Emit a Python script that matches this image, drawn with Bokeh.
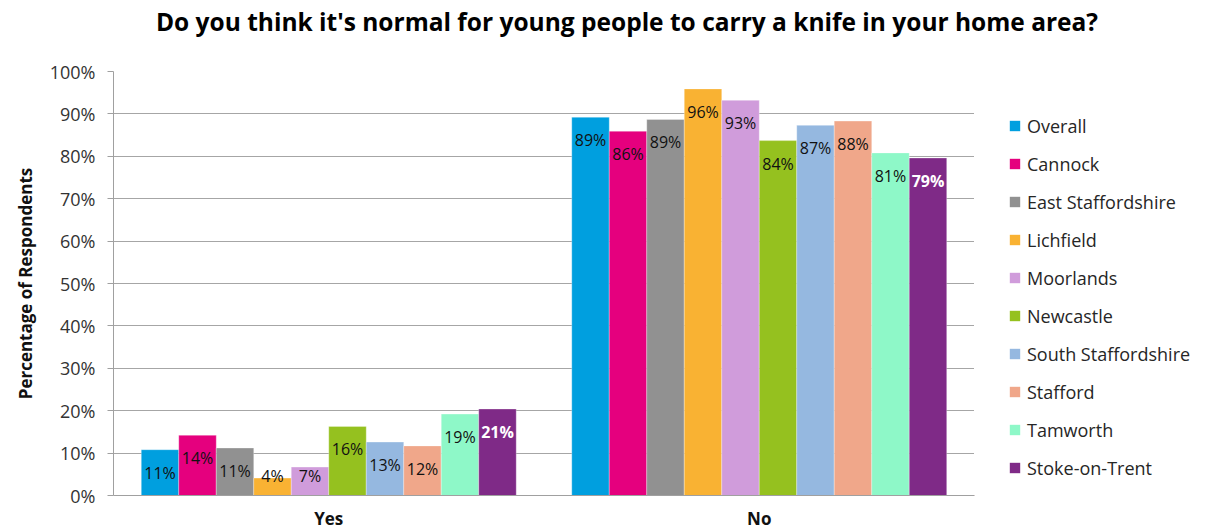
from bokeh.plotting import figure
from bokeh.layouts import column, row
from bokeh.models import (ColumnDataSource, FactorRange, Legend, LegendItem, Div,
                          PrintfTickFormatter, FixedTicker, Range1d)
from bokeh.transform import dodge
from bokeh.core.properties import value
from bokeh.embed import file_html
from bokeh.resources import INLINE

title_text = "Do you think it's normal for young people to carry a knife in your home area?"
categories = ["Yes", "No"]
districts = ["Overall", "Cannock", "East Staffordshire", "Lichfield", "Moorlands",
             "Newcastle", "South Staffordshire", "Stafford", "Tamworth", "Stoke-on-Trent"]
yes_values = [10.8, 14.2, 11.2, 4.1, 6.7, 16.3, 12.6, 11.7, 19.2, 20.4]
no_values = [89.2, 85.9, 88.7, 95.9, 93.2, 83.7, 87.3, 88.3, 80.8, 79.6]
yes_labels = [11, 14, 11, 4, 7, 16, 13, 12, 19, 21]
no_labels = [89, 86, 89, 96, 93, 84, 87, 88, 81, 79]
y_ticks = [0, 10, 20, 30, 40, 50, 60, 70, 80, 90, 100]

colors = ["#009FDF", "#E5007E", "#919191", "#F9B233", "#D09CDB",
          "#95C11F", "#95B8E0", "#F0A78A", "#8EF8C8", "#7F2A87"]
label_colors = ["#111111"] * 9 + ["#FFFFFF"]

FONT = "Open Sans"

title_div = Div(text=title_text, width=1164, height=50, margin=(0, 0, 0, 45),
                styles={"font-family": FONT, "font-size": "24.5px", "font-weight": "bold",
                        "text-align": "center", "line-height": "44px", "color": "#000000",
                        "white-space": "nowrap"})

p = figure(x_range=FactorRange(*categories), y_range=(0, 100),
           width=974, height=482, output_backend="svg", toolbar_location=None,
           min_border_left=113, min_border_right=0, min_border_top=21,
           min_border_bottom=37, margin=0)
p.outline_line_color = None
p.background_fill_color = "white"
p.border_fill_color = "white"

# legend holder figure
lf = figure(width=235, height=482, output_backend="svg", toolbar_location=None,
            x_range=Range1d(0, 1), y_range=Range1d(0, 1),
            x_axis_type=None, y_axis_type=None,
            min_border_left=0, min_border_right=0, min_border_top=0,
            min_border_bottom=0, margin=0)
lf.outline_line_color = None
lf.xgrid.grid_line_color = None
lf.ygrid.grid_line_color = None

bar_w = 0.0871
n = len(districts)
items = []
for i, d in enumerate(districts):
    off = (i - (n - 1) / 2) * bar_w
    vals = [yes_values[i], no_values[i]]
    labs = [yes_labels[i], no_labels[i]]
    src = ColumnDataSource(dict(
        cat=categories,
        val=vals,
        ly=[max(v - 5.4, 4.5) for v in vals],
        txt=[f"{l}%" for l in labs],
    ))
    p.vbar(x=dodge("cat", off, range=p.x_range), top="val", width=bar_w,
           source=src, fill_color=colors[i], line_color="white", line_width=0.6,
           line_alpha=0.5)
    p.text(x=dodge("cat", off, range=p.x_range), y="ly", text="txt", source=src,
           text_align="center", text_baseline="middle",
           text_font=value(FONT), text_font_size="16px",
           text_color=label_colors[i],
           text_font_style="bold" if i == n - 1 else "normal")
    # off-screen proxy glyph, only used to draw the legend swatch
    lr = lf.vbar(x=[-1], top=[-1], width=0.1, fill_color=colors[i], line_color=None)
    items.append(LegendItem(label=d, renderers=[lr]))

legend = Legend(items=items, location=(34, 15), orientation="vertical",
                glyph_width=13, glyph_height=13, label_height=25, spacing=13,
                label_standoff=6, padding=0, margin=0,
                border_line_color=None, background_fill_alpha=0,
                label_text_font=FONT, label_text_font_size="18px",
                label_text_color="#262626")
lf.add_layout(legend)

# axes
p.yaxis.ticker = FixedTicker(ticks=y_ticks)
p.yaxis.formatter = PrintfTickFormatter(format="%d%%")
p.yaxis.major_label_text_font = FONT
p.yaxis.major_label_text_font_size = "18px"
p.yaxis.major_label_text_color = "#333333"
p.yaxis.axis_line_color = "#A0A0A0"
p.yaxis.major_tick_line_color = "#A0A0A0"
p.yaxis.major_tick_out = 6
p.yaxis.major_tick_in = 0
p.yaxis.minor_tick_line_color = None
p.yaxis.major_label_standoff = 12
p.yaxis.axis_label = "Percentage of Respondents"
p.yaxis.axis_label_text_font = FONT
p.yaxis.axis_label_text_font_size = "17px"
p.yaxis.axis_label_text_font_style = "bold"
p.yaxis.axis_label_text_color = "#111111"
p.yaxis.axis_label_standoff = 10

p.xaxis.axis_line_color = "#A0A0A0"
p.xaxis.major_tick_line_color = None
p.xaxis.major_tick_out = 0
p.xaxis.major_tick_in = 0
p.xaxis.minor_tick_line_color = None
p.xaxis.major_label_text_font = FONT
p.xaxis.major_label_text_font_size = "17px"
p.xaxis.major_label_text_font_style = "bold"
p.xaxis.major_label_text_color = "#111111"
p.xaxis.major_label_standoff = 11

p.xgrid.grid_line_color = None
p.ygrid.grid_line_color = "#A6A6A6"
p.ygrid.grid_line_width = 1
p.ygrid.ticker = FixedTicker(ticks=y_ticks)

layout = column(title_div, row(p, lf, spacing=0, margin=0), spacing=0, margin=0)
open("out.html", "w").write(file_html(layout, INLINE))
